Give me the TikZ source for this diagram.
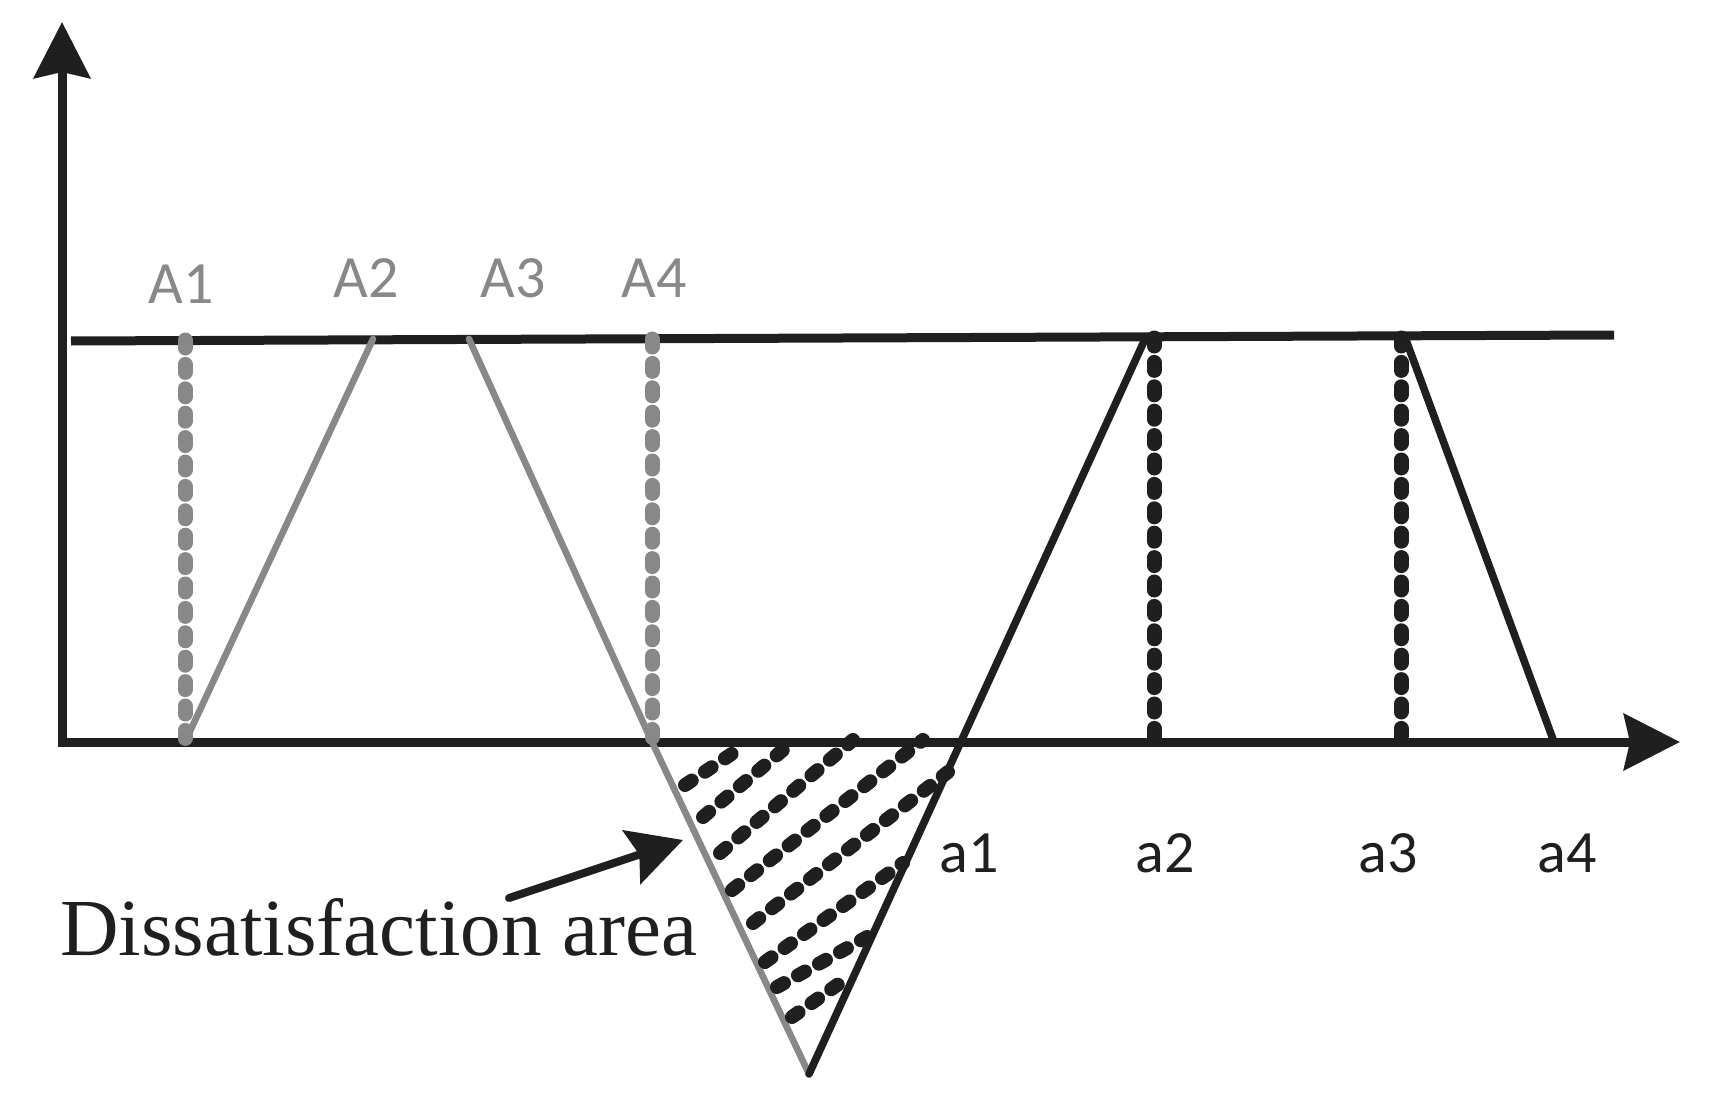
\documentclass[tikz,border=0pt]{standalone}
\usepackage{fontspec}
\setmainfont{Liberation Serif}
\newfontfamily\labfont{Carlito}
\usetikzlibrary{arrows.meta}
\definecolor{ink}{HTML}{1F1F1F}
\definecolor{gr}{HTML}{888888}
\tikzset{axtip/.tip={Stealth[length=28pt, width=28pt, inset=3pt]},
  pointtip/.tip={Stealth[length=27pt, width=28pt, inset=4pt]}}
\begin{document}
\begin{tikzpicture}[x=0.5pt,y=-0.5pt,
  axis/.style={draw=ink, line width=4.5pt, line join=miter},
  grayline/.style={draw=gr, line width=3.3pt, line cap=round},
  inkline/.style={draw=ink, line width=3.8pt, line cap=round},
  grdots/.style={draw=gr, line width=7.5pt, line cap=round, dash pattern=on 4pt off 8.2pt},
  inkdots/.style={draw=ink, line width=7.5pt, line cap=round, dash pattern=on 4pt off 8.2pt},
  hatchline/.style={draw=ink, line width=7pt, line cap=round, dash pattern=on 4pt off 8pt},
  glab/.style={text=gr, font=\labfont\fontsize{30}{36}\selectfont, inner sep=0pt, anchor=base},
  klab/.style={text=ink, font=\labfont\fontsize{30}{36}\selectfont, inner sep=0pt, anchor=base}]
\useasboundingbox (0,0) rectangle (1710,1113);
% key points
\coordinate (Ytip) at (62,22);
\coordinate (O) at (62,742);
\coordinate (Xtip) at (1680,742);
\coordinate (TL) at (71,341);
\coordinate (TR) at (1614,335);
\coordinate (A1t) at (185,340);
\coordinate (A1b) at (185,742);
\coordinate (A2t) at (373,339);
\coordinate (A3t) at (469,339);
\coordinate (A4t) at (652,339);
\coordinate (A4b) at (652,742);
\coordinate (V) at (809,1074);
\coordinate (a2top) at (1146,337);
\coordinate (a2t) at (1154,338);
\coordinate (a2b) at (1154,742);
\coordinate (a3t) at (1401,338);
\coordinate (a3b) at (1401,742);
\coordinate (a3s) at (1406,340);
\coordinate (a4b) at (1554,742);
% axes and upper line
\draw[axis, axtip-axtip] (Ytip) -- (O) -- (Xtip);
\draw[axis] (TL) -- (TR);
% gray (A) curve
\draw[grdots] (A1t) -- (A1b);
\draw[grdots] (A4t) -- (A4b);
\draw[grayline] (A1b) -- (A2t);
\draw[grayline] (A3t) -- (A4b) -- (V);
% hatching
\coordinate (h1s) at (685,785);  \coordinate (h1e) at (733,753);
\coordinate (h2s) at (703,817);  \coordinate (h2e) at (783,750);
\coordinate (h3s) at (720,853);  \coordinate (h3e) at (853,740);
\coordinate (h4s) at (732,890);  \coordinate (h4e) at (923,740);
\coordinate (h5s) at (753,923);  \coordinate (h5e) at (948,772);
\coordinate (h6s) at (765,962);  \coordinate (h6e) at (903,863);
\coordinate (h7s) at (777,987);  \coordinate (h7e) at (867,937);
\coordinate (h8s) at (792,1017); \coordinate (h8e) at (840,983);
\foreach \i in {1,...,8} {\draw[hatchline] (h\i s) -- (h\i e);}
% black (a) curve
\draw[inkdots] (a2t) -- (a2b);
\draw[inkdots] (a3t) -- (a3b);
\draw[inkline] (V) -- (a2top);
\draw[inkline] (a3s) -- (a4b);
% labels
\node[glab] (A1) at (181,303) {A1};
\node[glab] (A2) at (366,297) {A2};
\node[glab] (A3) at (513,297) {A3};
\node[glab] (A4) at (654,297) {A4};
\node[klab] (a1) at (969,872) {a1};
\node[klab] (a2) at (1165,872) {a2};
\node[klab] (a3) at (1388,872) {a3};
\node[klab] (a4) at (1567,872) {a4};
% annotation
\node[text=ink, font=\fontsize{40.5}{48}\selectfont, inner sep=0pt, anchor=base west] (dis) at (60,955) {Dissatisfaction area};
\coordinate (arrtail) at (509,898);
\coordinate (arrtip) at (683,840);
\draw[draw=ink, line width=4pt, line cap=round, -pointtip] (arrtail) -- (arrtip);
\end{tikzpicture}
\end{document}
